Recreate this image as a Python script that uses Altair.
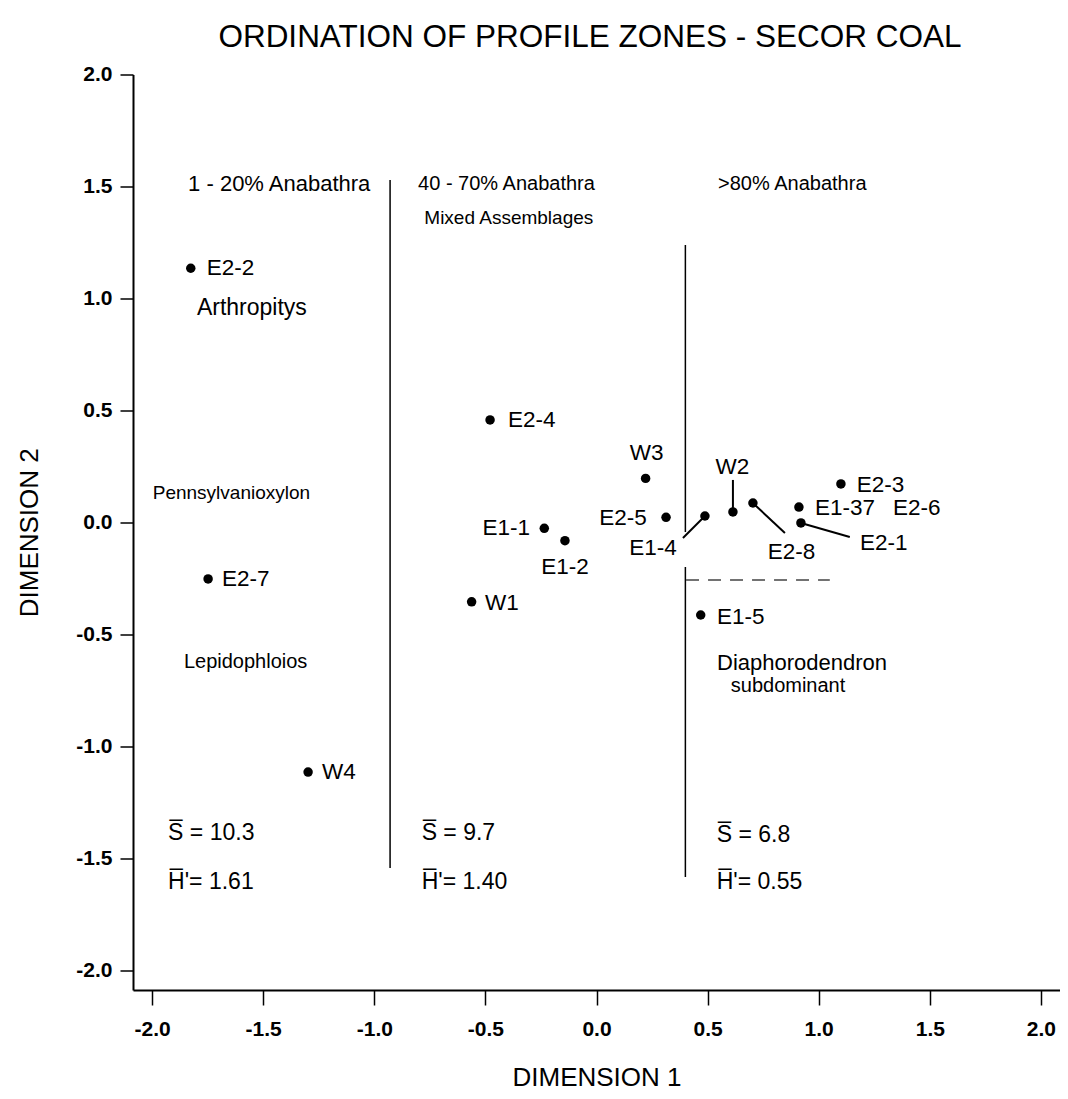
import altair as alt
import pandas as pd

FONT = "Liberation Sans"

# ---- sample points (Dimension 1, Dimension 2) ----
pt_names = ["E2-2", "E2-7", "W4", "E2-4", "E1-1", "E1-2", "W1", "W3", "E2-5",
            "E1-4", "W2", "E2-8", "E2-3", "E1-37", "E2-1", "E1-5"]
pt_x = [-1.826, -1.748, -1.298, -0.479, -0.235, -0.142, -0.562, 0.221, 0.313,
        0.488, 0.614, 0.704, 1.100, 0.911, 0.920, 0.469]
pt_y = [1.135, -0.252, -1.114, 0.458, -0.026, -0.081, -0.354, 0.197, 0.023,
        0.029, 0.047, 0.087, 0.172, 0.069, -0.002, -0.413]

# ---- point labels ----
lab_text = ["E2-2", "E2-7", "W4", "E2-4", "W1", "E2-3", "E1-37", "E2-6", "E2-1", "E1-5",
            "E1-1", "E2-5", "E1-4",
            "E1-2", "W3", "W2", "E2-8"]
lab_x = [-1.754, -1.685, -1.235, -0.398, -0.502, 1.171, 0.983, 1.334, 1.186, 0.542,
         -0.299, 0.226, 0.361,
         -0.142, 0.226, 0.612, 0.878]
lab_y = [1.136, -0.252, -1.114, 0.458, -0.359, 0.167, 0.065, 0.065, -0.092, -0.422,
         -0.025, 0.020, -0.114,
         -0.197, 0.310, 0.248, -0.130]
lab_align = ["left"] * 10 + ["right"] * 3 + ["center"] * 4

# ---- zone headers ----
head_text = ["1 - 20% Anabathra", "40 - 70% Anabathra", "Mixed Assemblages", ">80% Anabathra"]
head_x = [-1.838, -0.803, -0.775, 0.547]
head_y = [1.511, 1.511, 1.359, 1.511]
head_size = [22, 20, 19, 20]

# ---- taxa annotations ----
taxa_text = ["Arthropitys", "Pennsylvanioxylon", "Lepidophloios", "Diaphorodendron", "subdominant"]
taxa_x = [-1.551, -1.643, -1.579, 0.925, 0.862]
taxa_y = [0.958, 0.132, -0.623, -0.627, -0.730]
taxa_size = [23, 19, 20, 22, 20]

# ---- zone statistics ----
stat_text = ["S\u0305 = 10.3", "H\u0305'= 1.61", "S\u0305 = 9.7", "H\u0305'= 1.40",
             "S\u0305 = 6.8", "H\u0305'= 0.55"]
stat_x = [-1.928, -1.928, -0.787, -0.787, 0.541, 0.541]
stat_y = [-1.386, -1.605, -1.386, -1.605, -1.395, -1.605]

# ---- zone boundaries and leader lines ----
seg_x = [-0.929, 0.400, 0.400, 0.488, 0.614, 0.704, 0.920]
seg_x2 = [-0.929, 0.400, 0.400, 0.389, 0.614, 0.848, 1.140]
seg_y = [1.529, 1.239, -0.199, 0.029, 0.190, 0.087, -0.002]
seg_y2 = [-1.542, -0.042, -1.583, -0.069, 0.065, -0.047, -0.065]
seg_w = [1.5, 1.5, 1.5, 2, 2, 2, 2]

dash_x = [0.403]
dash_x2 = [1.050]
dash_y = [-0.257]

title_text = ["ORDINATION OF PROFILE ZONES - SECOR COAL"]

X_DOMAIN = [-2.086, 2.086]
Y_DOMAIN = [-2.087, 2.0]
ticks = [-2.0, -1.5, -1.0, -0.5, 0.0, 0.5, 1.0, 1.5, 2.0]

pts = pd.DataFrame({"name": pt_names, "x": pt_x, "y": pt_y})
labs = pd.DataFrame({"text": lab_text, "x": lab_x, "y": lab_y, "align": lab_align})
heads = pd.DataFrame({"text": head_text, "x": head_x, "y": head_y, "size": head_size})
taxa = pd.DataFrame({"text": taxa_text, "x": taxa_x, "y": taxa_y, "size": taxa_size})
stats = pd.DataFrame({"text": stat_text, "x": stat_x, "y": stat_y})
segs = pd.DataFrame({"x": seg_x, "x2": seg_x2, "y": seg_y, "y2": seg_y2, "w": seg_w})
dash = pd.DataFrame({"x": dash_x, "x2": dash_x2, "y": dash_y})
titles = pd.DataFrame({"text": title_text})

lab_expr = "datum.value < 0 ? '-' + format(-datum.value, '.1f') : format(datum.value, '.1f')"

xscale = alt.Scale(domain=X_DOMAIN, nice=False, zero=False)
yscale = alt.Scale(domain=Y_DOMAIN, nice=False, zero=False)

common_axis = dict(values=ticks, labelExpr=lab_expr, grid=False, tickWidth=1.5,
                   tickColor="black", domainColor="black", domainWidth=2,
                   labelFont=FONT, labelFontSize=21, labelFontWeight="bold",
                   labelColor="black", titleFont=FONT, titleFontSize=26,
                   titleFontWeight="normal", titleColor="black", labelFlush=False)
xaxis = alt.Axis(title="DIMENSION  1", tickSize=15, labelPadding=13, titlePadding=25,
                 **common_axis)
yaxis = alt.Axis(title="DIMENSION  2", tickSize=13, labelPadding=8, titlePadding=33,
                 **common_axis)

points = alt.Chart(pts).mark_circle(size=90, color="black", opacity=1).encode(
    x=alt.X("x:Q", scale=xscale, axis=xaxis), y=alt.Y("y:Q", scale=yscale, axis=yaxis))

def text_layer(df, align, size=22.5):
    return alt.Chart(df).mark_text(align=align, baseline="middle", font=FONT,
                                   fontSize=size, color="black").encode(
        x=alt.X("x:Q", scale=xscale), y=alt.Y("y:Q", scale=yscale), text="text:N")

def sized_text_layer(df, align):
    return alt.Chart(df).mark_text(align=align, baseline="middle", font=FONT,
                                   color="black").encode(
        x=alt.X("x:Q", scale=xscale), y=alt.Y("y:Q", scale=yscale), text="text:N",
        size=alt.Size("size:Q", scale=None, legend=None))

lab_left = text_layer(labs[labs["align"] == "left"], "left")
lab_right = text_layer(labs[labs["align"] == "right"], "right")
lab_center = text_layer(labs[labs["align"] == "center"], "center")
stat_layer = text_layer(stats, "left", size=23)
head_layer = sized_text_layer(heads, "left")
taxa_layer = sized_text_layer(taxa, "center")

seg_layer = alt.Chart(segs).mark_rule(color="black").encode(
    x=alt.X("x:Q", scale=xscale), x2="x2:Q",
    y=alt.Y("y:Q", scale=yscale), y2="y2:Q",
    strokeWidth=alt.StrokeWidth("w:Q", scale=None, legend=None))

dash_layer = alt.Chart(dash).mark_rule(color="#444", strokeDash=[13, 9], strokeWidth=1.5).encode(
    x=alt.X("x:Q", scale=xscale), x2="x2:Q", y=alt.Y("y:Q", scale=yscale))

title_layer = alt.Chart(titles).mark_text(
    align="center", baseline="alphabetic", font=FONT, fontSize=31.5, color="black"
).encode(x=alt.value(457), y=alt.value(-28), text="text:N")

chart = alt.layer(points, seg_layer, dash_layer, lab_left, lab_right, lab_center,
                  head_layer, taxa_layer, stat_layer, title_layer).properties(
    width=927, height=915.5,
    autosize=alt.AutoSizeParams(type="none"),
    padding={"left": 125, "top": 66.5, "right": 0, "bottom": 100},
).configure(background="white").configure_view(stroke="transparent", strokeWidth=0)

chart.save("out.html", embed_options={"renderer": "svg", "actions": False})
